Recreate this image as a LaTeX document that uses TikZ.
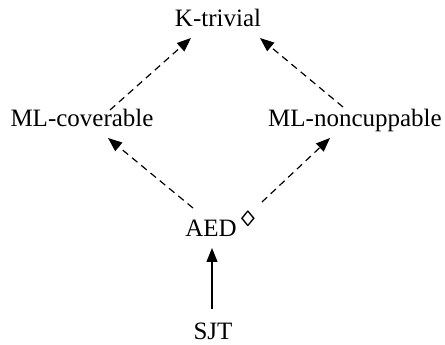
\documentclass[tikz,border=0pt]{standalone}
\usepackage{fontspec}
\setmainfont{Liberation Serif}
\usetikzlibrary{arrows.meta}
\begin{document}
\begin{tikzpicture}[
  lbl/.style={inner sep=0pt, outer sep=0pt, anchor=base, font=\fontsize{25}{30}\selectfont},
  conn/.style={line width=1.2pt, -{Triangle[length=14pt,width=11pt]}},
  dsh/.style={conn, dash pattern=on 7pt off 5pt}
]
\useasboundingbox (0pt,0pt) rectangle (445pt,345pt);
\node[lbl] (kt)  at (218pt,318pt) {K-trivial};
\node[lbl] (mlc) at (82pt,218pt) {ML-coverable};
\node[lbl] (mln) at (355pt,218pt) {ML-noncuppable};
\node[lbl] (aed) at (211pt,108pt) {AED};
\node[lbl] (sjt) at (213pt,5pt) {SJT};
\node[inner sep=0pt, anchor=base, font=\fontsize{22}{26}\selectfont, xscale=1.3, transform shape] (dia) at (248pt,118pt) {◊};
\draw[dsh] ([shift={(28pt,17pt)}]mlc.base) -- ([shift={(-27pt,-11pt)}]kt.base);
\draw[dsh] ([shift={(-12pt,20pt)}]mln.base) -- ([shift={(42pt,-11pt)}]kt.base);
\draw[dsh] ([shift={(-18pt,29pt)}]aed.base) -- ([shift={(26pt,-11pt)}]mlc.base);
\draw[dsh] ([shift={(51pt,35pt)}]aed.base) -- ([shift={(-25pt,-11pt)}]mln.base);
\draw[conn] ([shift={(-1pt,31pt)}]sjt.base) -- ([shift={(1pt,-11pt)}]aed.base);
\end{tikzpicture}
\end{document}
